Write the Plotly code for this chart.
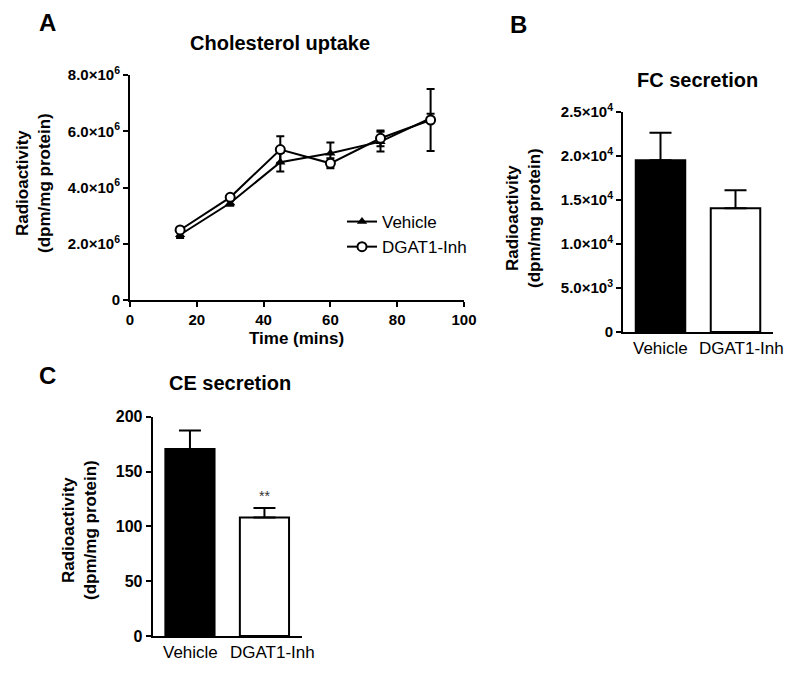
import plotly.graph_objects as go

# ---- Data ----
time_min = [15, 30, 45, 60, 75, 90]
vehicle_uptake = [2.32e6, 3.45e6, 4.90e6, 5.22e6, 5.63e6, 6.47e6]
vehicle_uptake_err = [0.12e6, 0.10e6, 0.33e6, 0.38e6, 0.35e6, 0.15e6]
dgat_uptake = [2.49e6, 3.65e6, 5.35e6, 4.86e6, 5.75e6, 6.40e6]
dgat_uptake_err = [0.08e6, 0.08e6, 0.47e6, 0.18e6, 0.28e6, 1.10e6]

groups = ["Vehicle", "DGAT1-Inh"]
fc_values = [19500, 14050]
fc_err = [3100, 2050]
ce_values = [170.5, 108.0]
ce_err = [17.0, 8.7]

a_yticks = [0, 2e6, 4e6, 6e6, 8e6]
a_yticklabels = ["0", "2.0×10<sup>6</sup>", "4.0×10<sup>6</sup>", "6.0×10<sup>6</sup>", "8.0×10<sup>6</sup>"]
b_yticks = [0, 5000, 10000, 15000, 20000, 25000]
b_yticklabels = ["0", "5.0×10<sup>3</sup>", "1.0×10<sup>4</sup>", "1.5×10<sup>4</sup>", "2.0×10<sup>4</sup>", "2.5×10<sup>4</sup>"]
c_yticks = [0, 50, 100, 150, 200]

FONT = "Liberation Sans, Arial, sans-serif"
W, H = 800, 673

def px_x(p):
    return p / W

def px_y(p):
    return 1 - p / H

fig = go.Figure()

# Panel A lines
fig.add_trace(go.Scatter(
    x=time_min, y=vehicle_uptake, mode="lines+markers", name="Vehicle",
    line=dict(color="black", width=2),
    marker=dict(symbol="triangle-up", size=9, color="black"),
    error_y=dict(type="data", array=vehicle_uptake_err, color="black", thickness=2, width=4),
    xaxis="x", yaxis="y"))
fig.add_trace(go.Scatter(
    x=time_min, y=dgat_uptake, mode="lines+markers", name="DGAT1-Inh",
    line=dict(color="black", width=2),
    marker=dict(symbol="circle", size=9, color="white", line=dict(color="black", width=2)),
    error_y=dict(type="data", array=dgat_uptake_err, color="black", thickness=2, width=4),
    xaxis="x", yaxis="y"))

# Panel B bars
fig.add_trace(go.Bar(
    x=groups, y=fc_values, marker=dict(color=["black", "white"], line=dict(color="black", width=2)),
    width=0.66, showlegend=False,
    error_y=dict(type="data", array=fc_err, arrayminus=[0, 0], symmetric=False,
                 color="black", thickness=2, width=11),
    xaxis="x2", yaxis="y2"))

# Panel C bars
fig.add_trace(go.Bar(
    x=groups, y=ce_values, marker=dict(color=["black", "white"], line=dict(color="black", width=2)),
    width=0.66, showlegend=False,
    error_y=dict(type="data", array=ce_err, arrayminus=[0, 0], symmetric=False,
                 color="black", thickness=2, width=11),
    xaxis="x3", yaxis="y3"))

axis_common = dict(showline=True, linecolor="black", linewidth=2, ticks="outside",
                   tickcolor="black", tickwidth=2, ticklen=5, showgrid=False, zeroline=False,
                   automargin=False)

fig.update_layout(
    template="none",
    width=W, height=H, margin=dict(l=0, r=0, t=0, b=0, pad=0, autoexpand=False),
    paper_bgcolor="white", plot_bgcolor="white",
    font=dict(family=FONT, color="black"),
    bargap=0.3,
    xaxis=dict(domain=[px_x(130), px_x(464)], anchor="y", range=[0, 100],
               tickvals=[0, 20, 40, 60, 80, 100],
               tickfont=dict(size=15, weight="bold"), **axis_common),
    yaxis=dict(domain=[px_y(300), px_y(75)], anchor="x", range=[0, 8e6],
               tickvals=a_yticks, ticktext=a_yticklabels,
               tickfont=dict(size=15, weight="bold"), **axis_common),
    xaxis2=dict(domain=[px_x(623), px_x(773)], anchor="y2", range=[-0.5, 1.5],
                showticklabels=False, **{**axis_common, "ticks": ""}),
    yaxis2=dict(domain=[px_y(332), px_y(111.7)], anchor="x2", range=[0, 25000],
                tickvals=b_yticks, ticktext=b_yticklabels,
                tickfont=dict(size=15, weight="bold"), **axis_common),
    xaxis3=dict(domain=[px_x(152.7), px_x(301.7)], anchor="y3", range=[-0.5, 1.5],
                showticklabels=False, **{**axis_common, "ticks": ""}),
    yaxis3=dict(domain=[px_y(636), px_y(416.7)], anchor="x3", range=[0, 200],
                tickvals=c_yticks,
                tickfont=dict(size=16, weight="bold"), **axis_common),
    legend=dict(x=px_x(342), y=px_y(204), xanchor="left", yanchor="top",
                bgcolor="rgba(0,0,0,0)", font=dict(size=17), tracegroupgap=2,
                itemwidth=30),
)

annots = [
    dict(text="<b>A</b>", x=px_x(47), y=px_y(23), font=dict(size=24)),
    dict(text="<b>B</b>", x=px_x(518), y=px_y(25), font=dict(size=24)),
    dict(text="<b>C</b>", x=px_x(47), y=px_y(375), font=dict(size=24)),
    dict(text="<b>Cholesterol uptake</b>", x=px_x(280), y=px_y(43), font=dict(size=20)),
    dict(text="<b>FC secretion</b>", x=px_x(697), y=px_y(80), font=dict(size=20)),
    dict(text="<b>CE secretion</b>", x=px_x(230), y=px_y(383), font=dict(size=20)),
    dict(text="<b>Time (mins)</b>", x=px_x(296), y=px_y(338), font=dict(size=17)),
    dict(text="<b>Radioactivity<br>(dpm/mg protein)</b>", x=px_x(34), y=px_y(183),
         textangle=-90, font=dict(size=17)),
    dict(text="<b>Radioactivity<br>(dpm/mg protein)</b>", x=px_x(524), y=px_y(218),
         textangle=-90, font=dict(size=17)),
    dict(text="<b>Radioactivity<br>(dpm/mg protein)</b>", x=px_x(79), y=px_y(530),
         textangle=-90, font=dict(size=17)),
]
for a in annots:
    fig.add_annotation(xref="paper", yref="paper", showarrow=False,
                       xanchor="center", yanchor="middle", **a)

# category labels under the bar panels
for xa, ya, shifts in (("x2", "y2", (0, 6)), ("x3", "y3", (1, 8))):
    for g, s in zip(groups, shifts):
        fig.add_annotation(x=g, y=0, xref=xa, yref=ya, text=g, showarrow=False,
                           xanchor="center", yanchor="middle", xshift=s, yshift=-16,
                           font=dict(size=17))

# significance marker above DGAT1-Inh bar in panel C
fig.add_annotation(x=groups[1], y=ce_values[1] + ce_err[1], xref="x3", yref="y3",
                   text="**", showarrow=False, yanchor="bottom", yshift=2,
                   font=dict(size=14, color="#333"))

fig.write_html("out.html", post_script="document.body.style.margin='0';",
               config={"displayModeBar": False})
